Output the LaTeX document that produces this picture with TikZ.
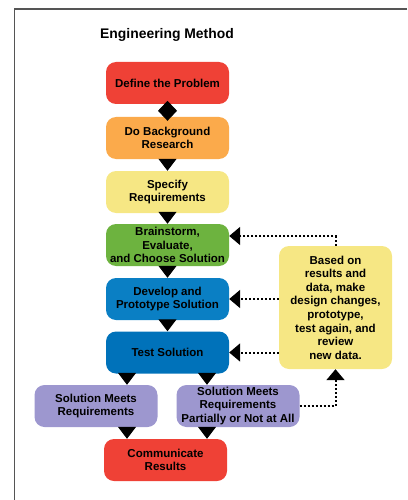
\documentclass[tikz,border=0pt]{standalone}
\usepackage{fontspec}
\setmainfont{Liberation Sans}
\usetikzlibrary{arrows.meta}

\definecolor{StepRed}{HTML}{EF4136}
\definecolor{StepOrange}{HTML}{FBAA4B}
\definecolor{StepYellow}{HTML}{F6E784}
\definecolor{StepGreen}{HTML}{6DB33F}
\definecolor{StepBlue}{HTML}{0A7FC4}
\definecolor{StepDeepBlue}{HTML}{0072BA}
\definecolor{StepPurple}{HTML}{9D97CF}
\definecolor{FrameGray}{HTML}{555555}

\begin{document}
\begin{tikzpicture}[x=1pt,y=-1pt]
\tikzset{
box/.style={ rectangle , rounded corners=10pt ,
minimum width=123pt , minimum height=42pt , inner sep=0pt ,
align=center , font=\fontsize{11.5}{13.6}\selectfont\bfseries } ,
arrow/.style={ line width=1pt , -{Triangle[width=18pt,length=12pt]} } ,
feedback/.style={ line width=2pt , dash pattern=on 2pt off 2pt ,
-{Triangle[width=18pt,length=11pt]} }
}

\useasboundingbox (0,0) rectangle (407,500);
\draw[FrameGray, line width=1.2pt] (407,9) -- (14.5,9) -- (14.5,500);

\node (title) at (167,35) {\fontsize{13.9}{16}\selectfont\bfseries Engineering Method};

% main column
\node[box, fill=StepRed] (define) at (167.5,83) {Define the Problem};
\node[box, fill=StepOrange] (research) at (167.5,138) {Do Background\\Research};
\node[box, fill=StepYellow] (specify) at (167.5,192) {Specify\\Requirements};
\node[box, fill=StepGreen] (brainstorm) at (167.5,245) {Brainstorm,\\Evaluate,\\and Choose Solution};
\node[box, fill=StepBlue] (develop) at (167.5,299) {Develop and\\Prototype Solution};
\node[box, fill=StepDeepBlue] (test) at (167.5,352.5) {Test Solution};
\node[box, fill=StepPurple] (meets) at (96,406) {Solution Meets\\Requirements};
\node[box, fill=StepPurple] (partial) at (238,406) {Solution Meets\\Requirements\\Partially or Not at All};
\node[box, fill=StepRed] (communicate) at (165.5,460) {Communicate\\Results};

% side note
\node[box, fill=StepYellow, minimum width=113pt, minimum height=123pt] (note) at (335.5,307.5)
{Based on\\results and\\data, make\\design changes,\\prototype,\\test again, and\\review\\new data.};

\coordinate (splitL) at (127,0);
\coordinate (splitR) at (207,0);

\draw[line width=1pt, -{Diamond[width=19pt,length=20pt]}, shorten >=-4pt] (define) -- (research);
\draw[arrow] (research) -- (specify);
\draw[arrow] (specify) -- (brainstorm);
\draw[arrow] (brainstorm) -- (develop);
\draw[arrow] (develop) -- (test);
\draw[arrow] (test.south -| splitL) -- (meets.north -| splitL);
\draw[arrow] (test.south -| splitR) -- (partial.north -| splitR);
\draw[arrow] (meets.south -| splitL) -- (communicate.north -| splitL);
\draw[arrow] (partial.south -| splitR) -- (communicate.north -| splitR);

% feedback loops
\draw[feedback] (note.north) |- ([yshift=9pt]brainstorm.east);
\draw[feedback] (note.west |- develop.east) -- (develop.east);
\draw[feedback] (note.west |- test.east) -- (test.east);
\draw[feedback] (partial.east) -| (note.south);

\end{tikzpicture}
\end{document}
